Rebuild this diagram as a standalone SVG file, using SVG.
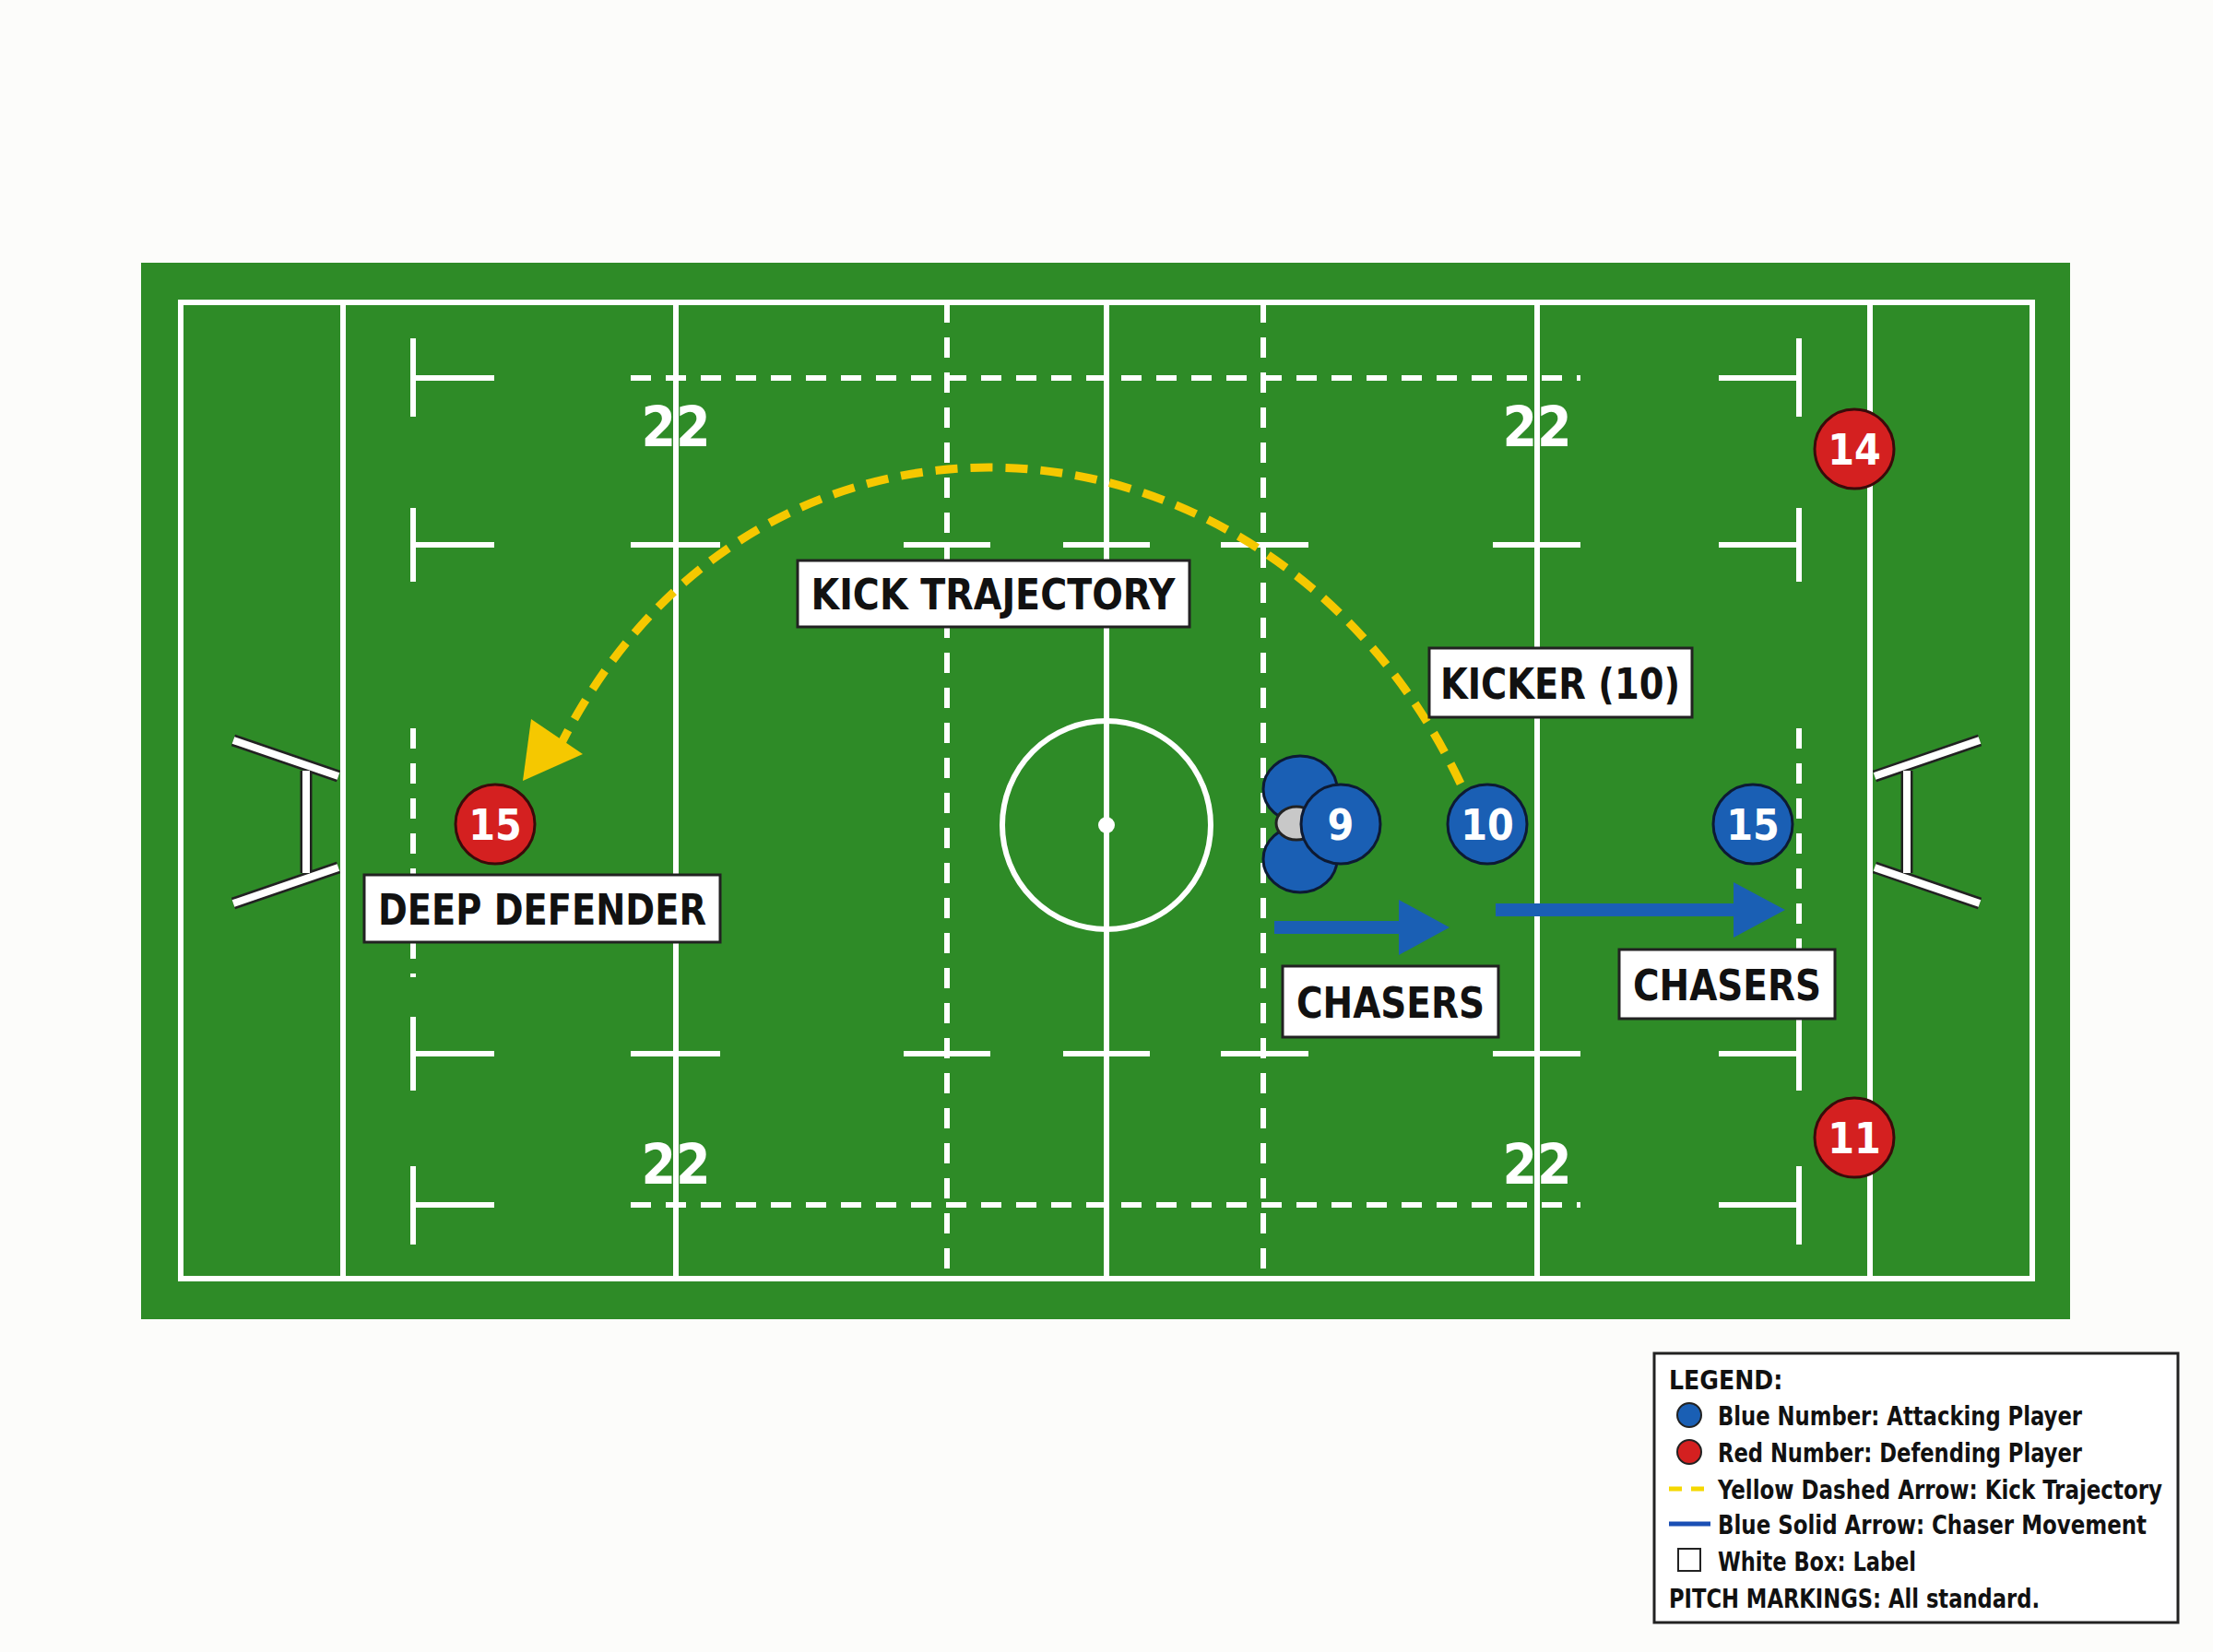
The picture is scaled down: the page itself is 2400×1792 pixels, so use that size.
<svg xmlns="http://www.w3.org/2000/svg" width="2400" height="1792" viewBox="0 0 2400 1792">
<defs>
<style>
.w{stroke:#fff;stroke-width:6;fill:none}
.wd{stroke:#fff;stroke-width:6;fill:none;stroke-dasharray:22 16}
.post{stroke:#fff;stroke-width:8;fill:none}
.postb{stroke:#222;stroke-width:13;fill:none}
.lbl{fill:#fff;stroke:#222;stroke-width:3}
.lt{font-family:"DejaVu Sans Condensed","DejaVu Sans",sans-serif;font-weight:bold;font-size:46px;fill:#111;text-anchor:middle}
.num{font-family:"DejaVu Sans Condensed","DejaVu Sans",sans-serif;font-weight:bold;font-size:46px;fill:#fff;text-anchor:middle}
.tt{font-family:"DejaVu Sans Condensed","DejaVu Sans",sans-serif;font-weight:bold;font-size:60px;fill:#fff;text-anchor:middle}
.blue{fill:#1a5fb4;stroke:#0d1a33;stroke-width:3}
.red{fill:#d42020;stroke:#3a0a0a;stroke-width:3}
.leg{font-family:"DejaVu Sans Condensed","DejaVu Sans",sans-serif;font-weight:bold;font-size:28px;fill:#111}
</style>
</defs>
<rect width="2400" height="1792" fill="#fcfcfa"/>
<g id="pitch">
<rect x="153" y="285" width="2092" height="1146" fill="#2e8b27"/>
<rect x="196" y="328" width="2008" height="1059" class="w"/>
<line x1="372" y1="328" x2="372" y2="1387" class="w"/>
<line x1="2028" y1="328" x2="2028" y2="1387" class="w"/>
<line x1="733" y1="328" x2="733" y2="1387" class="w"/>
<line x1="1667" y1="328" x2="1667" y2="1387" class="w"/>
<line x1="1200" y1="328" x2="1200" y2="1387" class="w"/>
<line x1="1027" y1="328" x2="1027" y2="1387" class="wd"/>
<line x1="1370" y1="328" x2="1370" y2="1387" class="wd"/>
<line x1="684" y1="410" x2="1714" y2="410" class="wd"/>
<line x1="684" y1="1307" x2="1714" y2="1307" class="wd"/>
<path class="w" d="M448,367V452M448,410H536M448,551V631M448,591H536M448,1103V1183M448,1143H536M448,1265V1350M448,1307H536"/>
<path class="w" d="M1951,367V452M1951,410H1864M1951,551V631M1951,591H1864M1951,1103V1183M1951,1143H1864M1951,1265V1350M1951,1307H1864"/>
<line x1="448" y1="790" x2="448" y2="1060" class="wd"/>
<line x1="1951" y1="790" x2="1951" y2="1060" class="wd"/>
<path class="w" d="M684,591H781M980,591H1074M1153,591H1247M1324,591H1419M1619,591H1714M684,1143H781M980,1143H1074M1153,1143H1247M1324,1143H1419M1619,1143H1714"/>
<circle cx="1200" cy="895" r="113" class="w"/>
<circle cx="1200" cy="895" r="9" fill="#fff"/>
<path class="postb" d="M253,803L367,842M253,980L367,941M332,836V947"/>
<path class="post" d="M253,803L367,842M253,980L367,941M332,836V947"/>
<path class="postb" d="M2147,803L2033,842M2147,980L2033,941M2068,836V947"/>
<path class="post" d="M2147,803L2033,842M2147,980L2033,941M2068,836V947"/>
<text x="733" y="484" class="tt">22</text>
<text x="1667" y="484" class="tt">22</text>
<text x="733" y="1284" class="tt">22</text>
<text x="1667" y="1284" class="tt">22</text>
</g>
<g id="connectors">
<path d="M1584,850 C1380,420 820,380 606,812" fill="none" stroke="#f5c800" stroke-width="9" stroke-dasharray="24 14"/>
<polygon points="567,847 576,780 632,818" fill="#f5c800"/>
<path d="M1382,999H1517V976L1572,1006L1517,1036V1013H1382Z" fill="#1a5fb4"/>
<path d="M1622,980H1880V957L1936,987L1880,1017V994H1622Z" fill="#1a5fb4"/>
</g>
<g id="player-red-15"><circle cx="537" cy="894" r="43" class="red"/><text x="537" y="911" class="num">15</text></g>
<g id="player-red-14"><circle cx="2011" cy="487" r="43" class="red"/><text x="2011" y="504" class="num">14</text></g>
<g id="player-red-11"><circle cx="2011" cy="1234" r="43" class="red"/><text x="2011" y="1251" class="num">11</text></g>
<g id="ruck">
<ellipse cx="1410" cy="856" rx="40" ry="36" class="blue"/>
<ellipse cx="1410" cy="932" rx="40" ry="36" class="blue"/>
<ellipse cx="1406" cy="893" rx="22" ry="18" fill="#c8c8c8" stroke="#222" stroke-width="3"/>
</g>
<g id="player-blue-9"><circle cx="1454" cy="894" r="43" class="blue"/><text x="1454" y="911" class="num">9</text></g>
<g id="player-blue-10"><circle cx="1613" cy="894" r="43" class="blue"/><text x="1613" y="911" class="num">10</text></g>
<g id="player-blue-15"><circle cx="1901" cy="894" r="43" class="blue"/><text x="1901" y="911" class="num">15</text></g>
<g id="label-kick"><rect x="865" y="608" width="425" height="72" class="lbl"/><text x="1077" y="661" class="lt" textLength="395" lengthAdjust="spacingAndGlyphs">KICK TRAJECTORY</text></g>
<g id="label-kicker"><rect x="1550" y="703" width="285" height="75" class="lbl"/><text x="1692" y="758" class="lt" textLength="260" lengthAdjust="spacingAndGlyphs">KICKER (10)</text></g>
<g id="label-deep"><rect x="395" y="949" width="386" height="73" class="lbl"/><text x="588" y="1003" class="lt" textLength="356" lengthAdjust="spacingAndGlyphs">DEEP DEFENDER</text></g>
<g id="label-chasers1"><rect x="1391" y="1048" width="234" height="77" class="lbl"/><text x="1508" y="1104" class="lt" textLength="204" lengthAdjust="spacingAndGlyphs">CHASERS</text></g>
<g id="label-chasers2"><rect x="1756" y="1030" width="234" height="75" class="lbl"/><text x="1873" y="1085" class="lt" textLength="204" lengthAdjust="spacingAndGlyphs">CHASERS</text></g>
<g id="legend">
<rect x="1794" y="1468" width="568" height="292" fill="#fff" stroke="#222" stroke-width="3"/>
<text x="1810" y="1507" class="leg">LEGEND:</text>
<circle cx="1832" cy="1535" r="13" fill="#1a5fb4" stroke="#222" stroke-width="2"/>
<text x="1863" y="1546" class="leg" textLength="395" lengthAdjust="spacingAndGlyphs">Blue Number: Attacking Player</text>
<circle cx="1832" cy="1575" r="13" fill="#d42020" stroke="#222" stroke-width="2"/>
<text x="1863" y="1586" class="leg" textLength="395" lengthAdjust="spacingAndGlyphs">Red Number: Defending Player</text>
<line x1="1810" y1="1615" x2="1855" y2="1615" stroke="#f5d800" stroke-width="5" stroke-dasharray="14 10"/>
<text x="1863" y="1626" class="leg" textLength="482" lengthAdjust="spacingAndGlyphs">Yellow Dashed Arrow: Kick Trajectory</text>
<line x1="1810" y1="1653" x2="1855" y2="1653" stroke="#1a4fb4" stroke-width="5"/>
<text x="1863" y="1664" class="leg" textLength="465" lengthAdjust="spacingAndGlyphs">Blue Solid Arrow: Chaser Movement</text>
<rect x="1820" y="1680" width="24" height="24" fill="#fff" stroke="#222" stroke-width="2"/>
<text x="1863" y="1704" class="leg" textLength="215" lengthAdjust="spacingAndGlyphs">White Box: Label</text>
<text x="1810" y="1744" class="leg" textLength="402" lengthAdjust="spacingAndGlyphs">PITCH MARKINGS: All standard.</text>
</g>
</svg>
